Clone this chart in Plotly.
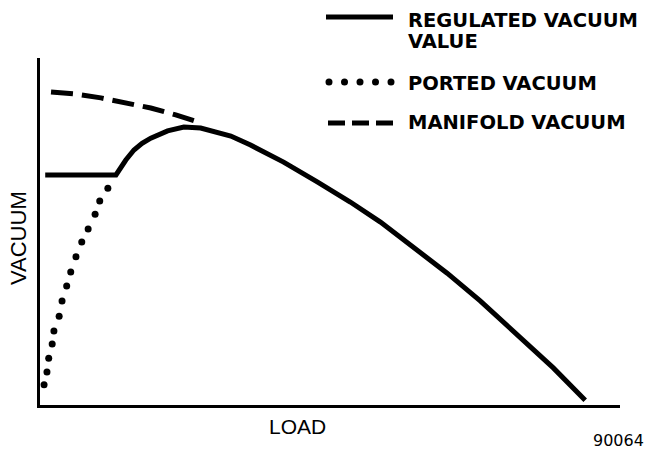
import plotly.graph_objects as go

# Regulated vacuum valve output vs. engine load (arbitrary % units)
reg_load = [0.9, 13.1, 14.8, 16.2, 17.6, 19.1, 22.0, 24.8, 27.7, 30.6, 32.9, 36.3, 42.0,
            47.8, 53.5, 58.7, 64.4, 70.2, 75.9, 82.8, 88.5, 94.0]
reg_vac = [66.3, 66.3, 70.6, 73.5, 75.4, 76.9, 79.0, 80.1, 79.8, 78.7, 77.5, 74.9, 70.0,
           64.3, 58.5, 52.7, 45.5, 38.0, 30.0, 19.3, 10.7, 1.4]

# Ported vacuum (light load region)
port_load = [0.7, 1.2, 1.5, 2.1, 2.4, 3.3, 3.8, 4.6, 5.3, 6.2, 7.2, 8.3, 9.5, 10.3, 11.7]
port_vac = [5.8, 9.5, 13.5, 17.6, 21.3, 25.6, 30.0, 34.3, 38.3, 42.7, 47.0, 50.7,
            55.0, 58.8, 62.5]

# Manifold vacuum (light load region)
man_load = [1.9, 6.2, 10.5, 14.8, 19.1, 23.4, 27.2]
man_vac = [90.2, 89.6, 88.5, 87.0, 85.6, 83.6, 81.6]

legend_labels = ["REGULATED VACUUM", "VALUE", "PORTED VACUUM", "MANIFOLD VACUUM"]
x_title = "LOAD"
y_title = "VACUUM"
figure_no = "90064"

W, H = 648, 451
ML, MR, MT, MB = 40, 28, 58, 46
PW, PH = W - ML - MR, H - MT - MB


def px(x, y):
    """Figure pixel position -> paper coordinates."""
    return (x - ML) / PW, (H - MB - y) / PH


fig = go.Figure()

fig.add_trace(go.Scatter(x=man_load, y=man_vac, mode="lines",
                         line=dict(color="black", width=5, dash="22px,9px"),
                         hoverinfo="skip"))
fig.add_trace(go.Scatter(x=port_load, y=port_vac, mode="markers",
                         marker=dict(color="black", size=7, line=dict(width=0)),
                         hoverinfo="skip"))
fig.add_trace(go.Scatter(x=reg_load, y=reg_vac, mode="lines",
                         line=dict(color="black", width=5, shape="linear"),
                         hoverinfo="skip"))

shapes = []
# legend sample: solid line
x0, y0 = px(326, 17)
x1, _ = px(393, 17)
shapes.append(dict(type="line", xref="paper", yref="paper", x0=x0, x1=x1, y0=y0, y1=y0,
                   line=dict(color="black", width=5)))
# legend sample: dots
for i in range(5):
    cx, cy = px(329 + 15.5 * i, 82)
    rx, ry = 3.5 / PW, 3.5 / PH
    shapes.append(dict(type="circle", xref="paper", yref="paper",
                       x0=cx - rx, x1=cx + rx, y0=cy - ry, y1=cy + ry,
                       fillcolor="black", line=dict(width=0)))
# legend sample: dashes
x0, y0 = px(328, 123)
x1, _ = px(393, 123)
shapes.append(dict(type="line", xref="paper", yref="paper", x0=x0, x1=x1, y0=y0, y1=y0,
                   line=dict(color="black", width=5, dash="17px,7px")))

annotations = []
leg_font = dict(family="DejaVu Sans", size=19.5, color="black")
for label, ypix in zip(legend_labels, [20, 41, 83, 123]):
    ax, ay = px(406, ypix)
    annotations.append(dict(text="<b>%s</b>" % label, xref="paper", yref="paper",
                            x=ax, y=ay, xanchor="left", yanchor="middle",
                            showarrow=False, font=leg_font))

ax, ay = px(18, 238)
annotations.append(dict(text=y_title, xref="paper", yref="paper", x=ax, y=ay,
                        xanchor="center", yanchor="middle", textangle=-90, showarrow=False,
                        font=dict(family="Liberation Sans", size=22, color="black")))
ax, ay = px(297, 426)
annotations.append(dict(text=x_title, xref="paper", yref="paper", x=ax, y=ay,
                        xanchor="center", yanchor="middle", showarrow=False,
                        font=dict(family="Liberation Sans", size=21, color="black")))
ax, ay = px(645, 440)
annotations.append(dict(text=figure_no, xref="paper", yref="paper", x=ax, y=ay,
                        xanchor="right", yanchor="middle", showarrow=False, borderpad=0,
                        font=dict(family="DejaVu Sans", size=16, color="black")))

axis_common = dict(showgrid=False, zeroline=False, showticklabels=False, ticks="",
                   showline=True, linecolor="black", linewidth=3, fixedrange=True)

fig.update_layout(
    width=W, height=H,
    margin=dict(l=ML, r=MR, t=MT, b=MB, pad=0),
    paper_bgcolor="white", plot_bgcolor="white",
    showlegend=False,
    xaxis=dict(range=[0, 100], **axis_common),
    yaxis=dict(range=[0, 100], **axis_common),
    shapes=shapes,
    annotations=annotations,
)

fig.write_html("out.html", config={"displayModeBar": False})
